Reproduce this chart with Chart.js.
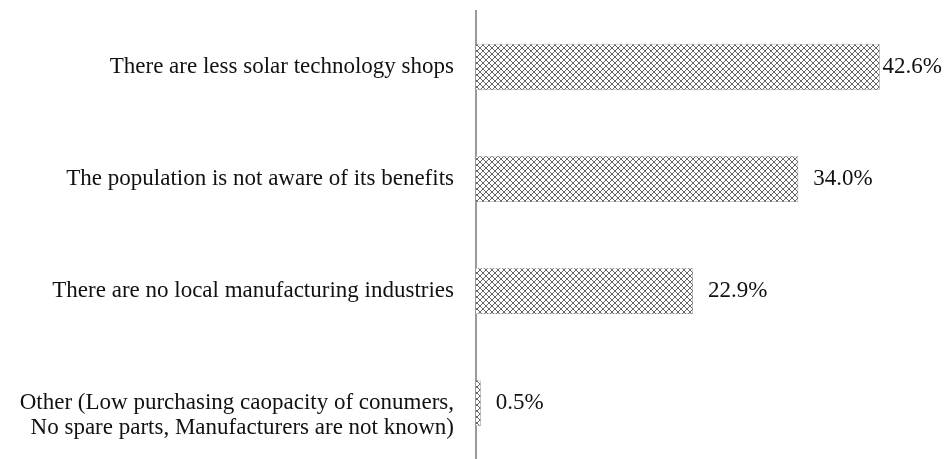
<!DOCTYPE html>
<html lang="en">
  <head>
    <meta charset="UTF-8" />
    <title>Barriers to solar technology</title>
    <script src="https://cdn.jsdelivr.net/npm/chart.js"></script>
    <style>
      html, body { margin: 0; padding: 0; background: #fff; }
      #wrap { width: 945px; height: 459px; }
    </style>
  </head>
  <body>
    <div id="wrap"><canvas id="barrierChart"></canvas></div>

    <script>
      const reasons = [
        "There are less solar technology shops",
        "The population is not aware of its benefits",
        "There are no local manufacturing industries",
        // leading blank line nudges the two-line label a little lower
        ["", "Other (Low purchasing caopacity of conumers,", "No spare parts, Manufacturers are not known)"],
      ];
      const shares = [42.6, 34.0, 22.9, 0.5];

      const serif = "'Liberation Serif', 'Times New Roman', serif";

      // small cross-hatch tile used to fill the bars
      function makeHatch() {
        const tile = document.createElement("canvas");
        tile.width = 6;
        tile.height = 6;
        const t = tile.getContext("2d");
        t.fillStyle = "#fff";
        t.fillRect(0, 0, 6, 6);
        t.strokeStyle = "#555";
        t.lineWidth = 0.9;
        t.beginPath();
        t.moveTo(0, 0); t.lineTo(6, 6);
        t.moveTo(6, 0); t.lineTo(0, 6);
        t.moveTo(-3, 3); t.lineTo(3, 9);
        t.moveTo(3, -3); t.lineTo(9, 3);
        t.moveTo(3, -3); t.lineTo(-3, 3);
        t.moveTo(9, 3); t.lineTo(3, 9);
        t.stroke();
        return t.createPattern(tile, "repeat");
      }

      const ctx = document.getElementById("barrierChart").getContext("2d");

      const barShadow = {
        id: "barShadow",
        beforeDatasetsDraw(chart) {
          const c = chart.ctx;
          c.save();
          c.shadowColor = "rgba(0,0,0,0.35)";
          c.shadowBlur = 4;
          c.shadowOffsetX = 2;
          c.shadowOffsetY = 2;
        },
        afterDatasetsDraw(chart) {
          chart.ctx.restore();
        },
      };

      const valueLabels = {
        id: "valueLabels",
        afterDatasetsDraw(chart) {
          const c = chart.ctx;
          const meta = chart.getDatasetMeta(0);
          c.save();
          c.font = "23px " + serif;
          c.fillStyle = "#111";
          c.textBaseline = "middle";
          meta.data.forEach((bar, i) => {
            const txt = shares[i].toFixed(1) + "%";
            const w = c.measureText(txt).width;
            const x = Math.min(bar.x + 15, chart.width - w - 3);
            c.fillText(txt, x, bar.y);
          });
          c.restore();
        },
      };

      new Chart(ctx, {
        type: "bar",
        data: {
          labels: reasons,
          datasets: [
            {
              data: shares,
              backgroundColor: makeHatch(),
              borderColor: "#aaa",
              borderWidth: 0.5,
              barPercentage: 0.41,
              categoryPercentage: 1,
            },
          ],
        },
        options: {
          indexAxis: "y",
          responsive: true,
          maintainAspectRatio: false,
          animation: false,
          layout: { padding: { top: 11, bottom: 0, left: 0, right: 0 } },
          plugins: {
            legend: { display: false },
            tooltip: { enabled: false },
          },
          scales: {
            x: {
              display: false,
              min: 0,
              max: 49.5,
            },
            y: {
              afterFit(scale) {
                scale.width = 476;
                scale.paddingTop = 0;
                scale.paddingBottom = 0;
              },
              grid: { display: false },
              border: { display: true, color: "#9a9a9a", width: 2 },
              ticks: {
                color: "#111",
                padding: 14,
                font: { family: serif, size: 23, lineHeight: 1.1 },
              },
            },
          },
        },
        plugins: [barShadow, valueLabels],
      });
    </script>
  </body>
</html>
